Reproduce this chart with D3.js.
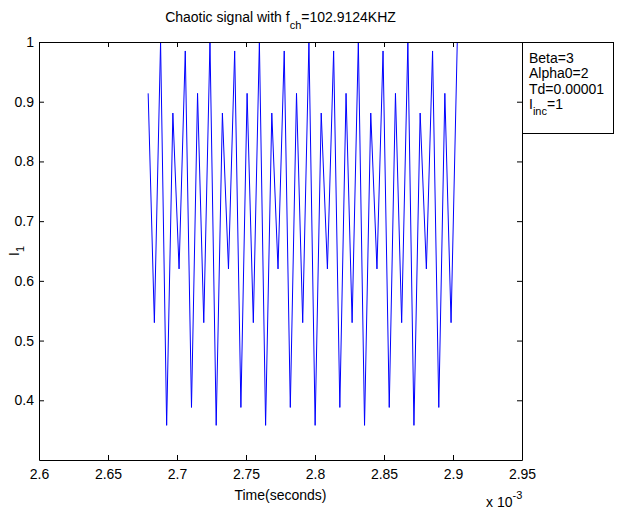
<!DOCTYPE html>
<html>
<head>
<meta charset="utf-8">
<script src="https://cdn.jsdelivr.net/npm/d3@7"></script>
<style>
  html, body { margin: 0; padding: 0; background: #fff; }
  svg { display: block; font-family: "Liberation Sans", Arial, Helvetica, sans-serif; }
</style>
</head>
<body>
<svg id="chart" width="617" height="512"></svg>
<script>
// ---- data (time in units of 1e-3 s) ----
const timeMs = [
  2.6791, 2.6836, 2.6881, 2.6925, 2.6970, 2.7015, 2.7060, 2.7105,
  2.7149, 2.7194, 2.7239, 2.7284, 2.7329, 2.7373, 2.7418, 2.7463,
  2.7508, 2.7553, 2.7597, 2.7642, 2.7687, 2.7732, 2.7777, 2.7821,
  2.7866, 2.7911, 2.7956, 2.8001, 2.8045, 2.8090, 2.8135, 2.8180,
  2.8225, 2.8269, 2.8314, 2.8359, 2.8404, 2.8449, 2.8493, 2.8538,
  2.8583, 2.8628, 2.8673, 2.8717, 2.8762, 2.8807, 2.8852, 2.8897,
  2.8941, 2.8986, 2.9031
];
const current = [
  0.914, 0.530, 1.000, 0.358, 0.881, 0.620, 0.985, 0.388,
  0.914, 0.530, 1.000, 0.358, 0.881, 0.620, 0.985, 0.388,
  0.914, 0.530, 1.000, 0.358, 0.881, 0.620, 0.985, 0.388,
  0.914, 0.530, 1.000, 0.358, 0.881, 0.620, 0.985, 0.388,
  0.914, 0.530, 1.000, 0.358, 0.881, 0.620, 0.985, 0.388,
  0.914, 0.530, 1.000, 0.358, 0.881, 0.620, 0.985, 0.388,
  0.914, 0.530, 1.000
];
const xTicks = [2.6, 2.65, 2.7, 2.75, 2.8, 2.85, 2.9, 2.95];
const xTickLabels = ["2.6", "2.65", "2.7", "2.75", "2.8", "2.85", "2.9", "2.95"];
const yTicks = [0.4, 0.5, 0.6, 0.7, 0.8, 0.9, 1];
const yTickLabels = ["0.4", "0.5", "0.6", "0.7", "0.8", "0.9", "1"];
const xDomain = [2.6, 2.95];
const yDomain = [0.3, 1];
const legendLines = ["Beta=3", "Alpha0=2", "Td=0.00001"];

// ---- layout ----
const svg = d3.select("#chart");
const L = 39, R = 522, T = 42, B = 460;
const x = d3.scaleLinear().domain(xDomain).range([L, R]);
const y = d3.scaleLinear().domain(yDomain).range([B, T]);
const fs = 14;

svg.append("defs").append("clipPath").attr("id", "clip")
  .append("rect").attr("x", L).attr("y", T - 1).attr("width", R - L).attr("height", B - T + 2);

// data line
const line = d3.line().x((d, i) => x(timeMs[i])).y(d => y(d));
svg.append("path")
  .datum(current)
  .attr("clip-path", "url(#clip)")
  .attr("fill", "none")
  .attr("stroke", "#0000ff")
  .attr("stroke-width", 1)
  .attr("d", line);

// axes (MATLAB style: ticks inside, box on)
const tickLen = 5;
const axBottom = d3.axisBottom(x).tickValues(xTicks).tickSizeInner(-tickLen).tickSizeOuter(0)
  .tickPadding(9).tickFormat((d, i) => xTickLabels[i]);
const axTop = d3.axisTop(x).tickValues(xTicks).tickSizeInner(-tickLen).tickSizeOuter(0).tickFormat("");
const axLeft = d3.axisLeft(y).tickValues(yTicks).tickSizeInner(-tickLen).tickSizeOuter(0)
  .tickPadding(5).tickFormat((d, i) => yTickLabels[i]);
const axRight = d3.axisRight(y).tickValues(yTicks).tickSizeInner(-tickLen).tickSizeOuter(0).tickFormat("");

function style(g) {
  g.select(".domain").attr("stroke", "#000").attr("stroke-width", 1);
  g.selectAll(".tick line").attr("stroke", "#000");
  g.selectAll(".tick text").attr("fill", "#000").attr("font-size", fs)
    .attr("font-family", "'Liberation Sans', Arial, sans-serif");
}
svg.append("g").attr("transform", `translate(0,${B})`).call(axBottom).call(style);
svg.append("g").attr("transform", `translate(0,${T})`).call(axTop).call(style);
svg.append("g").attr("transform", `translate(${L},0)`).call(axLeft).call(style);
svg.append("g").attr("transform", `translate(${R},0)`).call(axRight).call(style);

// title
const title = svg.append("text").attr("x", (L + R) / 2).attr("y", 22)
  .attr("text-anchor", "middle").attr("font-size", fs);
title.append("tspan").text("Chaotic signal with f");
title.append("tspan").attr("dy", 7).attr("font-size", 11).text("ch");
title.append("tspan").attr("dy", -7).text("=102.9124KHZ");

// x label
svg.append("text").attr("x", (L + R) / 2).attr("y", 500)
  .attr("text-anchor", "middle").attr("font-size", fs).text("Time(seconds)");

// exponent
const ex = svg.append("text").attr("x", 486).attr("y", 507).attr("font-size", fs);
ex.append("tspan").text("x 10");
ex.append("tspan").attr("dy", -8).attr("font-size", 11).text("-3");

// y label
const yl = svg.append("text").attr("transform", `translate(19,${(T + B) / 2}) rotate(-90)`)
  .attr("text-anchor", "middle").attr("font-size", fs);
yl.append("tspan").text("I");
yl.append("tspan").attr("dy", 5).attr("font-size", 11).text("1");

// legend / annotation box
const bx = 522, by = 42, bw = 91, bh = 91;
svg.append("rect").attr("x", bx + 0.5).attr("y", by + 0.5).attr("width", bw).attr("height", bh)
  .attr("fill", "#fff").attr("stroke", "#000").attr("stroke-width", 1);
legendLines.forEach((s, i) => {
  svg.append("text").attr("x", bx + 7).attr("y", by + 21 + i * 15.3)
    .attr("font-size", fs).text(s);
});
const li = svg.append("text").attr("x", bx + 7).attr("y", by + 21 + 3 * 15.3).attr("font-size", fs);
li.append("tspan").text("I");
li.append("tspan").attr("dy", 6).attr("font-size", 11).text("inc");
li.append("tspan").attr("dy", -6).text("=1");
</script>
</body>
</html>
